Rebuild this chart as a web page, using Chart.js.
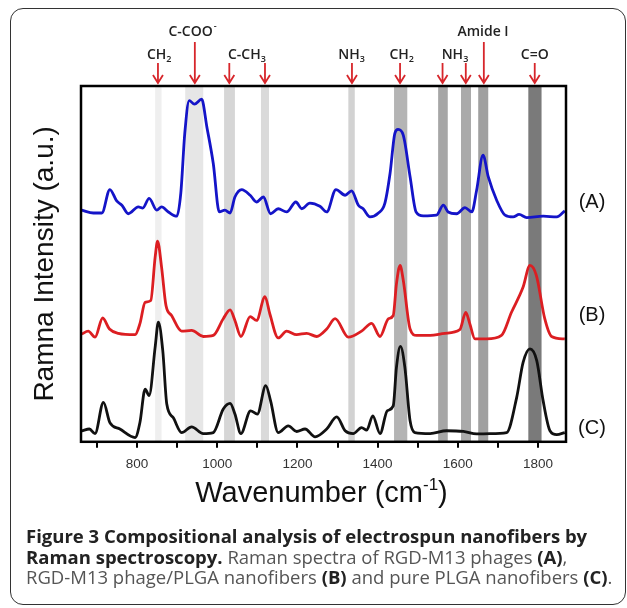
<!DOCTYPE html>
<html>
<head>
<meta charset="utf-8">
<script src="https://cdn.jsdelivr.net/npm/chart.js@4.4.1/dist/chart.umd.min.js"></script>
<style>
  body { margin: 0; background: #fff; }
  #wrap { position: relative; width: 627px; height: 608px; overflow: hidden; }
  #frame { position: absolute; left: 10px; top: 8px; width: 616px; height: 597px;
           border: 1.5px solid #333; border-radius: 13px; box-sizing: border-box; }
  #ramanChart { position: absolute; left: 0; top: 0; }
  #caption { position: absolute; left: 26px; top: 526px; font: 18.5px/20.5px "Open Sans";
             color: #555; white-space: nowrap; }
  #caption b { color: #222; font-weight: 700; }
</style>
</head>
<body>
<div id="wrap">
  <div id="frame"></div>
  <canvas id="ramanChart" width="627" height="608"></canvas>
  <div id="caption">
    <b>Figure 3 Compositional analysis of electrospun nanofibers by</b><br>
    <b>Raman spectroscopy.</b> Raman spectra of RGD-M13 phages <b>(A)</b>,<br>
    RGD-M13 phage/PLGA nanofibers <b>(B)</b> and pure PLGA nanofibers <b>(C)</b>.
  </div>
</div>
<script>

// axis
var xMin = 660, xMax = 1870;
var xTickValues = [700, 800, 900, 1000, 1100, 1200, 1300, 1400, 1500, 1600, 1700, 1800];
var xTickLabels = ['', '800', '', '1000', '', '1200', '', '1400', '', '1600', '', '1800'];

// spectra (A) RGD-M13 phage, (B) phage/PLGA, (C) PLGA
var blueX = [662,691,712,732,749,762,778,803,814,830,849,861,878,899,909,919,930,943,961,974,990,1005,1019,1032,1044,1061,1082,1098,1115,1133,1152,1173,1196,1211,1231,1256,1273,1296,1319,1335,1352,1364,1381,1402,1418,1431,1443,1451,1464,1481,1496,1514,1547,1564,1576,1597,1618,1635,1647,1663,1676,1697,1718,1738,1753,1772,1813,1847,1867];
var blueY = [65.1,64.3,64.3,70.9,67.7,66.5,64.1,66.0,65.7,68.4,65.1,66.0,64.6,63.4,69.9,86.8,95.9,94.9,96.3,88.5,78.2,64.6,65.1,64.3,68.8,70.9,69.3,67.4,68.8,64.1,65.5,64.6,67.4,65.5,67.1,66.2,64.6,70.9,69.3,70.5,66.5,65.5,63.2,64.3,67.0,75.4,86.7,87.8,86.2,74.5,64.6,63.5,63.7,66.5,64.6,64.1,65.8,64.6,70.7,80.6,74.5,67.9,63.7,63.2,63.9,63.0,63.4,63.2,64.9];

var redX = [662,678,695,714,731,753,795,807,820,834,845,851,861,872,886,911,936,965,990,1015,1032,1044,1059,1082,1098,1119,1131,1152,1173,1198,1223,1248,1273,1294,1327,1360,1385,1406,1427,1439,1447,1456,1464,1481,1497,1531,1568,1605,1620,1630,1643,1672,1709,1734,1763,1780,1796,1817,1834,1867];
var redY = [30.3,31.1,29.4,34.8,31.7,30.5,30.1,33.2,39.2,39.7,51.9,56.4,49.1,38.3,35.5,31.1,31.3,29.6,29.9,34.6,37.1,34.1,29.6,35.2,34.1,40.8,36.0,29.2,31.1,30.1,30.5,29.6,31.7,34.6,29.4,31.1,33.3,29.6,34.6,35.5,44.4,49.6,45.4,31.7,29.9,29.9,30.5,31.5,36.4,33.2,28.9,28.9,29.9,36.4,43.5,49.6,46.8,34.6,29.6,28.9];

var blackX = [662,681,695,716,732,757,795,807,820,830,845,853,864,874,890,911,936,965,990,1015,1032,1044,1059,1083,1100,1121,1133,1152,1177,1198,1219,1244,1273,1298,1319,1339,1360,1373,1388,1406,1424,1439,1447,1457,1468,1481,1493,1531,1572,1614,1647,1680,1722,1747,1763,1780,1797,1813,1830,1847,1867];
var blackY = [3.1,3.6,2.3,11.1,5.4,3.6,1.2,5.4,14.8,13.0,26.6,33.6,25.6,10.6,6.8,2.6,4.2,2.3,2.6,9.2,10.8,7.8,2.3,8.7,7.8,15.8,11.5,2.6,4.5,2.9,3.6,1.4,3.6,7.0,3.1,2.3,4.0,3.3,7.3,2.3,8.7,10.1,20.9,26.8,20.9,5.9,2.6,2.3,3.1,2.9,2.2,2.3,2.6,12.5,22.3,26.1,22.8,11.5,3.1,2.0,2.6];

var seriesNames = ['(A)', '(B)', '(C)'];
var seriesLabelY = [67.4, 35.5, 3.7];

// grey bands
var bandStart = [845, 920, 1017, 1109, 1327, 1441, 1551, 1608, 1651, 1776];
var bandEnd   = [861, 965, 1044, 1129, 1343, 1474, 1575, 1633, 1676, 1809];
var bandShade = ['#efefef', '#e6e6e6', '#d6d6d6', '#dadada', '#d2d2d2', '#b4b4b4', '#a6a6a6', '#aaaaaa', '#a0a0a0', '#7a7a7a'];

// red arrows and their labels
var arrowAt   = [852, 944, 1030, 1119, 1336, 1456, 1562, 1620, 1665, 1792];
var arrowLong = [false, true, false, false, false, false, false, false, true, false];
var labelText = ['CH', 'C-COO', 'C-CH', 'NH', 'CH', 'NH', 'Amide I', 'C=O'];
var labelSub  = ['2', '', '3', '3', '2', '3', '', ''];
var labelSup  = ['', '-', '', '', '', '', '', ''];
var labelAt   = [855, 937, 1074, 1335, 1460, 1593, 1663, 1792];
var labelRow  = [1, 0, 1, 1, 1, 1, 0, 1];


function toPoints(xs, ys) {
  var pts = [];
  for (var i = 0; i < xs.length; i++) {
    pts.push({x: xs[i], y: ys[i]});
  }
  return pts;
}

function drawChem(ctx, cx, cy, base, sub, sup) {
  var font = '600 14px "Open Sans"';
  var small = '600 9px "Open Sans"';
  ctx.font = font;
  var w1 = ctx.measureText(base).width;
  ctx.font = small;
  var w2 = Math.max(ctx.measureText(sub).width, ctx.measureText(sup).width);
  var x0 = cx - (w1 + w2) / 2;
  ctx.textAlign = 'left';
  ctx.textBaseline = 'middle';
  ctx.font = font;
  ctx.fillText(base, x0, cy);
  ctx.font = small;
  if (sub) ctx.fillText(sub, x0 + w1, cy + 4);
  if (sup) ctx.fillText(sup, x0 + w1 + 1, cy - 6);
}

var bandsPlugin = {
  id: 'bands',
  beforeDatasetsDraw: function(chart) {
    var ctx = chart.ctx, xs = chart.scales.x, area = chart.chartArea;
    ctx.save();
    for (var i = 0; i < bandStart.length; i++) {
      var a = xs.getPixelForValue(bandStart[i]);
      var b = xs.getPixelForValue(bandEnd[i]);
      ctx.fillStyle = bandShade[i];
      ctx.fillRect(a, area.top, b - a, area.bottom - area.top);
    }
    ctx.restore();
  }
};

var decorPlugin = {
  id: 'decor',
  afterDraw: function(chart) {
    var ctx = chart.ctx, xs = chart.scales.x, ys = chart.scales.y, area = chart.chartArea;
    ctx.save();

    // plot frame
    ctx.strokeStyle = '#000';
    ctx.lineWidth = 2.5;
    ctx.strokeRect(area.left, area.top, area.right - area.left, area.bottom - area.top);

    // arrows
    ctx.strokeStyle = '#d7262b';
    ctx.lineWidth = 1.8;
    var yEnd = area.top - 3;
    for (var i = 0; i < arrowAt.length; i++) {
      var px = xs.getPixelForValue(arrowAt[i]);
      var yStart = arrowLong[i] ? 42 : 63;
      ctx.beginPath();
      ctx.moveTo(px, yStart);
      ctx.lineTo(px, yEnd);
      ctx.moveTo(px - 5, yEnd - 8);
      ctx.lineTo(px, yEnd);
      ctx.lineTo(px + 5, yEnd - 8);
      ctx.stroke();
    }

    // arrow labels
    ctx.fillStyle = '#222';
    for (var j = 0; j < labelText.length; j++) {
      var cy = labelRow[j] === 0 ? 32 : 55;
      drawChem(ctx, xs.getPixelForValue(labelAt[j]), cy, labelText[j], labelSub[j], labelSup[j]);
    }

    // series names on the right
    ctx.fillStyle = '#111';
    ctx.font = '20px "Liberation Sans"';
    ctx.textAlign = 'center';
    ctx.textBaseline = 'middle';
    for (var k = 0; k < seriesNames.length; k++) {
      ctx.fillText(seriesNames[k], area.right + 26, ys.getPixelForValue(seriesLabelY[k]));
    }

    // y title
    ctx.save();
    ctx.translate(45, (area.top + area.bottom) / 2);
    ctx.rotate(-Math.PI / 2);
    ctx.font = '28px "Liberation Sans"';
    ctx.fillText('Ramna Intensity (a.u.)', 0, 0);
    ctx.restore();

    // x title with superscript
    var big = '29px "Liberation Sans"', sm = '17px "Liberation Sans"';
    ctx.font = big;
    var t1 = 'Wavenumber (cm', t3 = ')';
    var w1 = ctx.measureText(t1).width, w3 = ctx.measureText(t3).width;
    ctx.font = sm;
    var w2 = ctx.measureText('-1').width;
    var x0 = (area.left + area.right) / 2 - (w1 + w2 + w3) / 2 - 2;
    var ty = 494;
    ctx.textAlign = 'left';
    ctx.font = big;
    ctx.fillText(t1, x0, ty);
    ctx.font = sm;
    ctx.fillText('-1', x0 + w1, ty - 9);
    ctx.font = big;
    ctx.fillText(t3, x0 + w1 + w2, ty);

    ctx.restore();
  }
};

function lineSet(xs, ys, color) {
  return {
    data: toPoints(xs, ys),
    borderColor: color,
    borderWidth: 2.8,
    pointRadius: 0,
    cubicInterpolationMode: 'monotone',
    fill: false
  };
}

function init() {
  var ctx = document.getElementById('ramanChart').getContext('2d');
  new Chart(ctx, {
    type: 'line',
    data: {
      datasets: [
        lineSet(blueX, blueY, '#1414c8'),
        lineSet(redX, redY, '#dc1e22'),
        lineSet(blackX, blackY, '#111111')
      ]
    },
    options: {
      responsive: false,
      animation: false,
      devicePixelRatio: 1,
      layout: { padding: { left: 81, right: 61, top: 86, bottom: 128 } },
      plugins: { legend: { display: false }, tooltip: { enabled: false } },
      scales: {
        x: {
          type: 'linear',
          min: xMin,
          max: xMax,
          afterBuildTicks: function(scale) {
            scale.ticks = xTickValues.map(function(v) { return {value: v}; });
          },
          ticks: {
            autoSkip: false,
            maxRotation: 0,
            padding: 8,
            color: '#333',
            font: { family: 'Liberation Sans', size: 13.5 },
            callback: function(v, i) { return xTickLabels[i]; }
          },
          grid: { drawOnChartArea: false, tickLength: 6, color: '#000', lineWidth: 2 },
          border: { display: false }
        },
        y: { display: false, min: 0, max: 100 }
      }
    },
    plugins: [bandsPlugin, decorPlugin]
  });
}

init();
</script>
</body>
</html>
